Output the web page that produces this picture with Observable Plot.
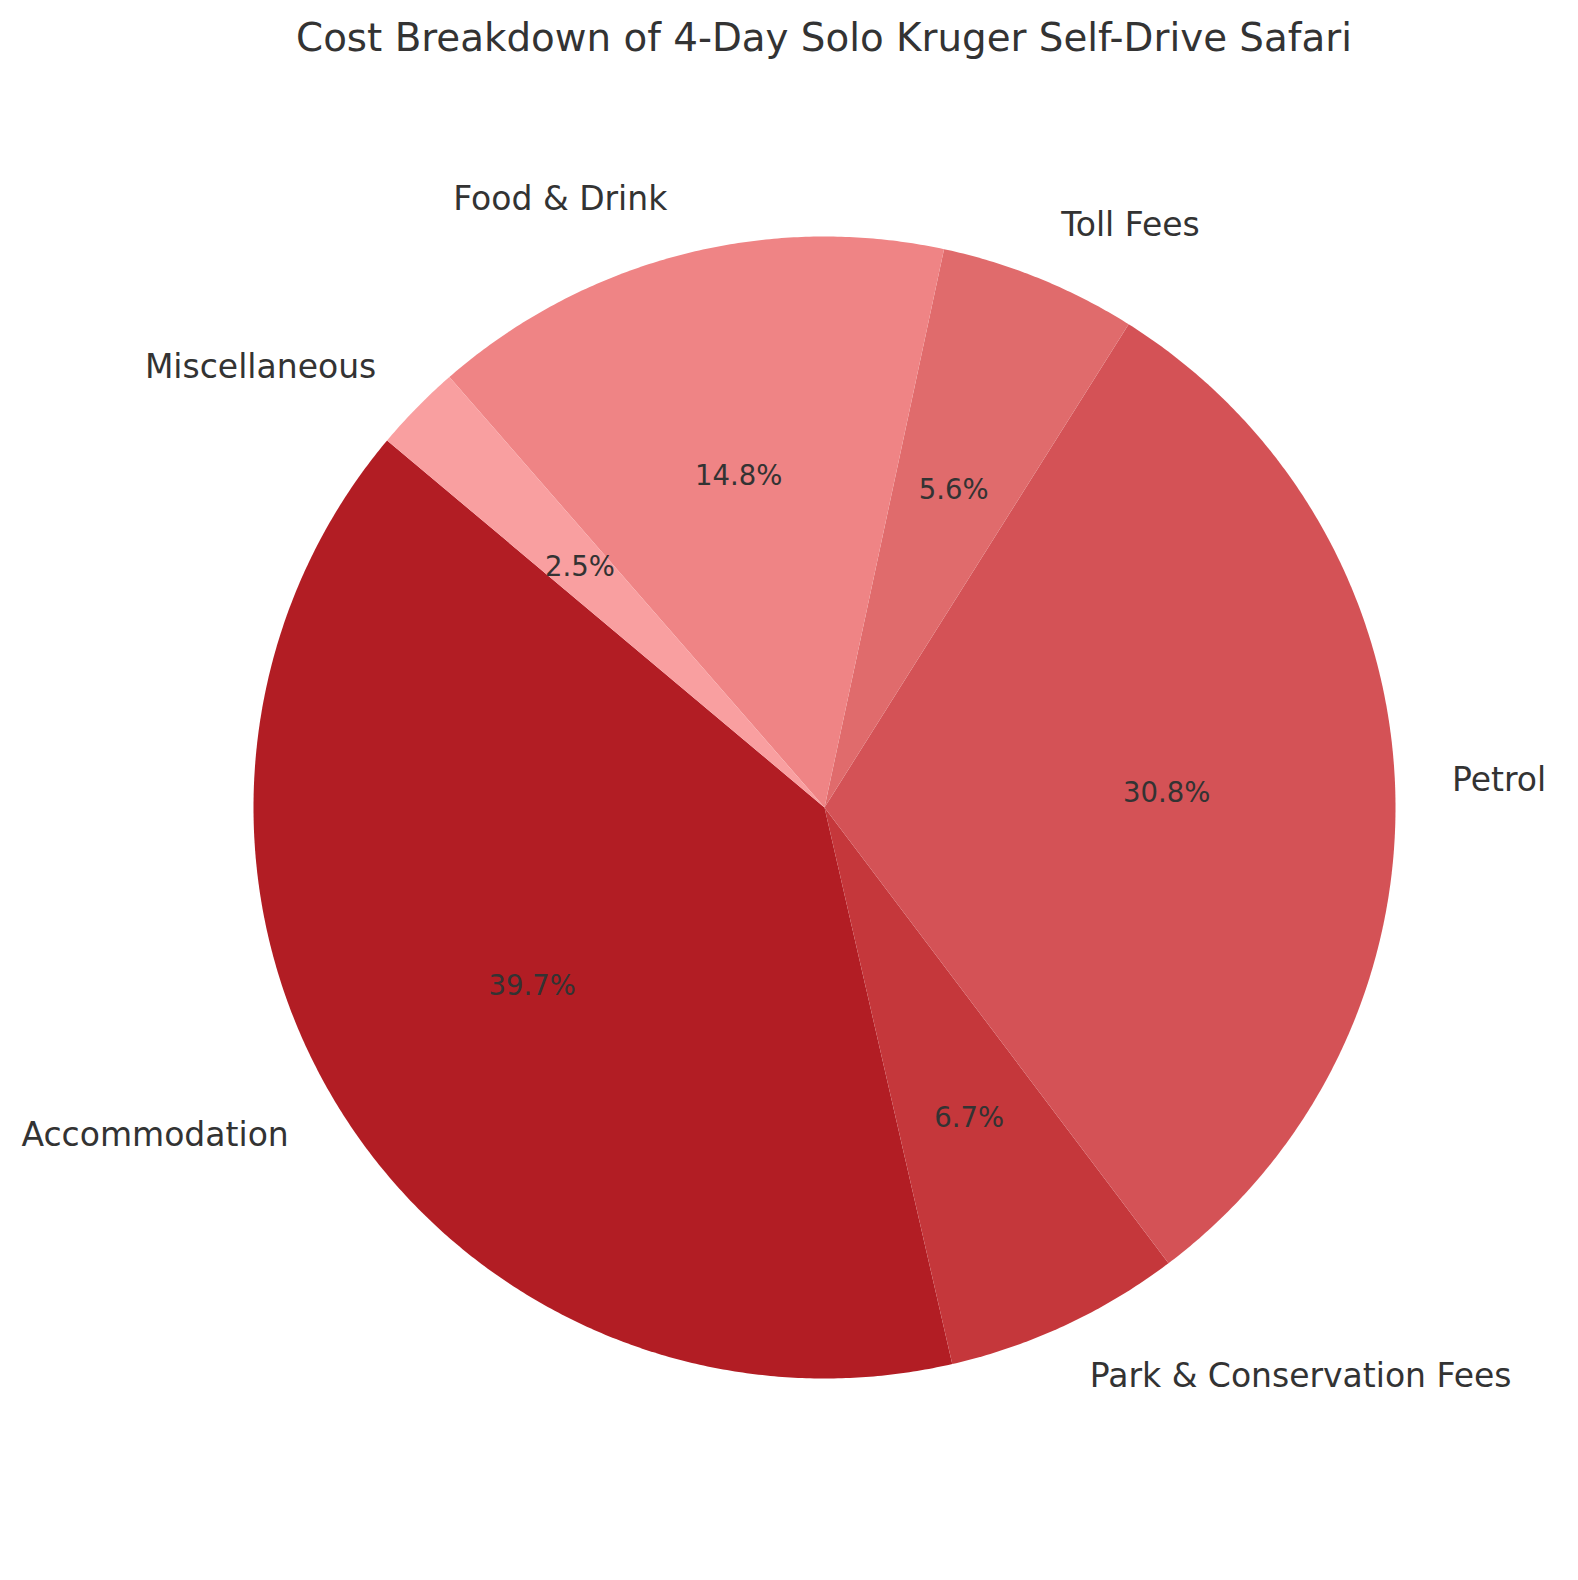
<!DOCTYPE html>
<html>
<head>
<meta charset="utf-8">
<script src="https://cdn.jsdelivr.net/npm/d3@7"></script>
<script src="https://cdn.jsdelivr.net/npm/@observablehq/plot@0.6"></script>
<style>
  html, body { margin: 0; padding: 0; background: #ffffff; }
  #title {
    width: 1578px; box-sizing: border-box; padding-left: 70px;
    height: 76px; line-height: 76px; text-align: center;
    font-family: "DejaVu Sans", sans-serif; font-size: 38.8px; color: #333333;
    white-space: nowrap;
  }
</style>
</head>
<body>
<div id="title">Cost Breakdown of 4-Day Solo Kruger Self-Drive Safari</div>
<div id="chart"></div>
<script>
// ---- data ----
const categories = ["Accommodation", "Park & Conservation Fees", "Petrol", "Toll Fees", "Food & Drink", "Miscellaneous"];
const costs = [3200, 540, 2480, 450, 1190, 200]; // ZAR
const sliceColors = ["#b21d24", "#c5373b", "#d45256", "#e06b6c", "#ef8485", "#f99fa0"];

// ---- layout ----
const W = 1578, H = 1504;
const R = 571;            // pie radius in px
const cx = 824, cy = 731; // pie centre in px within svg
const startAngle = 140;   // degrees, counter-clockwise from 3 o'clock

const total = d3.sum(costs);
let acc = startAngle;
const slices = categories.map((c, i) => {
  const sweep = costs[i] / total * 360;
  const a0 = acc; acc += sweep;
  const mid = (a0 + acc) / 2 * Math.PI / 180;
  return {category: c, value: costs[i], a0, a1: acc,
          cos: Math.cos(mid), sin: Math.sin(mid),
          pct: d3.format(".1f")(costs[i] / total * 100) + "%"};
});

const pts = [];
for (const s of slices) {
  const n = Math.max(2, Math.ceil((s.a1 - s.a0) / 0.4));
  pts.push({category: s.category, x: 0, y: 0});
  for (let k = 0; k <= n; k++) {
    const t = (s.a0 + (s.a1 - s.a0) * k / n) * Math.PI / 180;
    pts.push({category: s.category, x: Math.cos(t), y: Math.sin(t)});
  }
  pts.push({category: s.category, x: 0, y: 0});
}

const labelR = 1.1, pctR = 0.6;
const textStyle = {fontSize: 33, fill: "#333333"};

const chart = Plot.plot({
  width: W, height: H, margin: 0,
  style: {fontFamily: "DejaVu Sans, sans-serif", background: "white"},
  x: {domain: [-cx / R, (W - cx) / R], axis: null},
  y: {domain: [-(H - cy) / R, cy / R], axis: null},
  color: {domain: categories, range: sliceColors},
  marks: [
    Plot.line(pts, {x: "x", y: "y", z: "category", fill: "category", stroke: "none", curve: "linear"}),
    Plot.text(slices.filter(d => d.cos >= 0), {
      x: d => labelR * d.cos, y: d => labelR * d.sin, text: "category",
      textAnchor: "start", ...textStyle
    }),
    Plot.text(slices.filter(d => d.cos < 0), {
      x: d => labelR * d.cos, y: d => labelR * d.sin, text: "category",
      textAnchor: "end", ...textStyle
    }),
    Plot.text(slices, {
      x: d => pctR * d.cos, y: d => pctR * d.sin, text: "pct",
      textAnchor: "middle", fontSize: 27.5, fill: "#333333"
    })
  ]
});
document.getElementById("chart").appendChild(chart);
</script>
</body>
</html>
